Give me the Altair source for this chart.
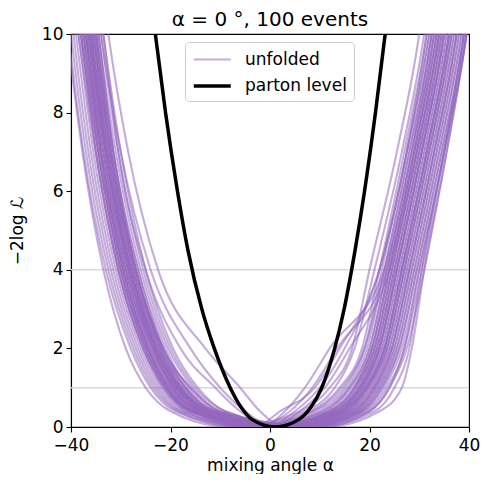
import altair as alt
import pandas as pd

# y levels at which each unfolded curve's alpha position was read (left side, minimum, right side)
Y_LEVELS = [13, 10, 7, 4, 2, 1, 0.4, 0, 0.4, 1, 2, 4, 7, 10, 13]

# alpha positions of each unfolded curve at the levels above
UNFOLDED = [
    [-39, -36, -33, -28.5, -23.5, -19.5, -14, 2, 14, 18.5, 22, 25.5, 30.5, 35, 38],
    [-41, -38, -35, -30.5, -25.5, -21.5, -16, -1, 12, 17, 20.5, 24, 29, 33.5, 36.5],
    [-38, -35, -32, -27, -22, -17.5, -12, 4, 16, 20, 23.5, 27, 32, 36.5, 39.5],
    [-42, -39.5, -36.5, -32, -27, -23, -18, -3, 10, 15.5, 19.5, 23, 28, 32.5, 35.5],
    [-37.5, -34.5, -31, -26, -20.5, -15.5, -10, 5, 17, 21, 24.5, 28, 33, 37.5, 40.5],
    [-40, -37, -34, -29.5, -24.5, -20, -15, 0, 13, 18, 21.5, 25, 30, 34.5, 37.5],
    [-39.5, -36.5, -33.5, -29, -24, -19, -13, 3, 15.5, 19.5, 23, 26.5, 31.5, 36, 39],
    [-43, -40.5, -37.5, -33, -28, -24, -19, -5, 8, 14, 18.5, 22, 27, 31.5, 34.5],
    [-38.5, -35.5, -32.5, -28, -23, -18.5, -12.5, 6, 18, 22, 25.5, 29, 34, 38.5, 41.5],
    [-40.5, -37.5, -34.5, -30, -25, -21, -16, -2, 11, 16, 20, 23.5, 28.5, 33, 36],
    [-35.5, -32.5, -28.5, -22.5, -13, -6, -2, 3, 14, 18, 21.5, 25, 30, 34.5, 37.5],
    [-37, -34, -30, -24, -16, -10, -5, 1, 13, 17.5, 21, 24.5, 29.5, 34, 37],
    [-39, -36, -33, -28, -23, -19, -14, -2, 3, 7, 12, 23, 28.5, 32.5, 35.5],
    [-40, -37, -34, -29.5, -24.5, -20.5, -15.5, -3, 2, 9, 14, 22, 27.5, 31.5, 34.5],
    [-38.5, -35.5, -32, -27.5, -22.5, -18, -12.5, 0, 6, 11, 16, 24, 29.5, 34, 37],
    [-41.5, -38.5, -35.5, -31, -26, -22, -17, -4, 9, 15, 19, 22.5, 27.5, 32, 35],
    [-38, -35, -31.5, -26.5, -21, -16.5, -11, 6, 18.5, 22.5, 26, 29.5, 34.5, 39, 42],
    [-39.5, -36.5, -33, -28, -22.5, -18, -12, 1, 14, 19, 22.5, 26, 31, 35.5, 38.5],
    [-40.5, -37.5, -34, -29.5, -24.5, -20.5, -15.5, 4, 16.5, 20.5, 24, 27.5, 32.5, 37, 40],
    [-37, -34, -30.5, -25.5, -20, -15, -9, 7, 19, 23, 26.5, 30, 35, 39.5, 42.5],
    [-42.5, -40, -37, -32.5, -27.5, -23.5, -18.5, -6, 7, 13, 17, 21, 26.5, 31, 34],
    [-39, -36, -32.5, -27.5, -22, -17, -11.5, 8, 20, 24, 27.5, 31, 35.5, 39.5, 42.5],
    [-40, -37, -33.5, -29, -23.5, -19.5, -14, -1, 12, 17, 21, 24.5, 29.5, 34, 37],
    [-38.5, -35.5, -32, -27, -22, -18, -12.5, 3, 15, 19, 22.5, 26, 31, 35.5, 38.5],
    [-41, -38, -35, -30.5, -25.5, -21, -15.5, 5, 17, 21, 24.5, 28, 33, 37.5, 40.5],
    [-39.5, -36.5, -33, -28.5, -23.5, -19, -13.5, 9, 21, 25, 28, 30.5, 35, 39.5, 42.5],
    [-37.5, -34.5, -31.5, -27, -21.5, -16, -10, 10, 20, 24, 27, 30.5, 35, 39, 42],
    [-40, -37, -33.5, -28.5, -23, -18.5, -13, 2, 14.5, 19, 23, 26.5, 31.5, 36, 39],
    [-41, -38, -34.5, -30, -25, -20.5, -15, -1, 12.5, 17.5, 21, 24.5, 29.5, 34, 37],
    [-38, -35, -31.5, -27, -22, -17.5, -12, 4, 16, 20.5, 24, 27.5, 32.5, 37, 40],
    [-39, -36, -32.5, -27.5, -22.5, -18, -12.5, 0, 13, 18, 22, 25.5, 30.5, 35, 38],
    [-42, -39, -36, -31.5, -26.5, -22.5, -17.5, -3, 10.5, 16, 20, 23.5, 28.5, 33, 36],
    [-36.5, -33.5, -30, -25, -19.5, -14.5, -9, 6, 17.5, 21.5, 25, 28.5, 33.5, 38, 41],
    [-40, -37, -34, -29.5, -24.5, -20, -14.5, 1, 13.5, 18.5, 22, 25.5, 30.5, 35, 38],
    [-39, -36, -33, -28, -23, -18.5, -13, 7, 18.5, 22.5, 26, 29.5, 34.5, 39, 42],
    [-43, -40.7, -37.7, -33.5, -29, -25, -20, -8, 6, 12, 16.5, 20, 25.5, 30, 33],
    [-38, -35, -32, -27, -21.5, -17, -11, 11, 22, 26.5, 28.5, 31, 35.5, 39.5, 42.5],
    [-39.5, -36.5, -33, -28.5, -23.5, -19.5, -14, -1, 5, 10, 15, 22, 27.5, 32, 35],
    [-40.5, -37.5, -34.5, -30, -25, -21, -15.5, 3, 15, 19.5, 23, 26.5, 31.5, 36, 39],
    [-38.5, -35.5, -32.5, -28, -23, -18.5, -13, 5, 16.5, 21, 24.5, 28, 33, 37.5, 40.5],
    [-39.5, -36.5, -33.5, -29, -24, -20, -14.5, -2, 11.5, 16.5, 20.5, 24, 29, 33.5, 36.5],
    [-38, -35, -32, -27.5, -22.5, -18, -12, 2.5, 15, 19.5, 23, 26.5, 31.5, 36, 39],
    [-40.5, -37.5, -34, -29, -24, -19.5, -14, 6.5, 18, 22, 25.5, 29, 34, 38.5, 41.5],
    [-39, -36, -33, -28.5, -23.5, -19, -13.5, -4, 8.5, 14.5, 19, 23, 28, 32.5, 35.5],
    [-37.5, -34.5, -31.5, -26.5, -21.5, -17, -11, 8, 19.5, 23.5, 27, 30, 35, 39, 42],
    [-41.5, -38.5, -35, -30.5, -25.5, -21.5, -16.5, 0.5, 13, 18, 21.5, 25, 30, 34.5, 37.5],
    [-38.5, -35.5, -32, -27, -21.5, -16, -10.5, 3.5, 15.5, 20, 23.5, 27, 32, 36.5, 39.5],
    [-40, -37, -34, -29.5, -24.5, -20.5, -15.5, 2, 14.5, 19.5, 23.5, 27, 32, 36.5, 39.5],
    [-39, -36, -32.5, -28, -23, -18.5, -13, -3, 4, 8.5, 13.5, 23.5, 29, 33, 36],
    [-36.5, -33.5, -30.5, -25, -18, -11, -6, 0, 12, 17, 20.5, 24, 29, 33.5, 36.5],
    [-41, -38, -34.5, -30, -25, -21, -16, 5.5, 17.5, 21.5, 25, 28.5, 33.5, 38, 41],
    [-39.5, -36.5, -33, -28, -23, -18.5, -13, 1.5, 14, 18.5, 22, 25.5, 30.5, 35, 38],
]

# parton level curve
PARTON_LEVELS = [13, 10, 8, 6, 4.5, 3, 2, 1, 0.5, 0.2, 0, 0.2, 0.5, 1, 2, 3, 4.5, 6, 8, 10, 13]
PARTON_ALPHA = [-25.7, -23.05, -21.0, -18.6, -16.5, -13.7, -11.2, -8.0, -5.8, -3.7, 1.0,
                5.9, 8.2, 10.4, 13.0, 14.9, 17.1, 19.0, 21.2, 23.15, 25.7]

REFERENCE_LEVELS = [1, 4]
SERIES = ["unfolded", "parton level"]
X_TICKS = [-40, -20, 0, 20, 40]
Y_TICKS = [0, 2, 4, 6, 8, 10]

rows = []
for i, xs in enumerate(UNFOLDED):
    for a, lv in zip(xs, Y_LEVELS):
        rows.append({"curve": i, "alpha": a, "nll": lv, "series": SERIES[0]})
unf = pd.DataFrame(rows)
par = pd.DataFrame({"alpha": PARTON_ALPHA, "nll": PARTON_LEVELS, "series": SERIES[1]})
ref = pd.DataFrame({"nll": REFERENCE_LEVELS})

FONT = "DejaVu Sans"

x_enc = alt.X("alpha:Q",
              scale=alt.Scale(domain=[-40, 40], nice=False, zero=False),
              axis=alt.Axis(values=X_TICKS, title="mixing angle α", format="d",
                            labelFlush=False))
y_enc = alt.Y("nll:Q",
              scale=alt.Scale(domain=[0, 10], nice=False, zero=False),
              axis=alt.Axis(values=Y_TICKS, title="−2log ℒ", format="d",
                            labelFlush=False))

leg = alt.Legend(orient="none", legendX=114, legendY=8, title=None,
                 symbolType="M-1,0H3", symbolSize=342, labelFontSize=17,
                 labelFont=FONT, labelColor="black", fillColor="white",
                 strokeColor="#cccccc", cornerRadius=4, padding=7,
                 labelOffset=31, rowPadding=7)

color = alt.Color("series:N", scale=alt.Scale(domain=SERIES, range=["#9467bd", "#000000"]), legend=leg)
width = alt.StrokeWidth("series:N", scale=alt.Scale(domain=SERIES, range=[2.1, 3.5]), legend=leg)
opac = alt.Opacity("series:N", scale=alt.Scale(domain=SERIES, range=[0.55, 1]), legend=leg)

rules = alt.Chart(ref).mark_rule(color="#d9d9d9", strokeWidth=1.5).encode(y=alt.Y("nll:Q"))

unfolded = alt.Chart(unf).mark_line(interpolate="monotone", clip=True).encode(
    x=x_enc, y=y_enc, detail="curve:N", color=color, strokeWidth=width, opacity=opac)

parton = alt.Chart(par).mark_line(interpolate="monotone", clip=True).encode(
    x=x_enc, y=y_enc, color=color, strokeWidth=width, opacity=opac)

chart = alt.layer(rules, unfolded, parton).properties(
    width=398, height=393,
    title=alt.TitleParams("α = 0 °, 100 events", fontSize=20, font=FONT,
                          fontWeight="normal", color="black", offset=8, dy=13),
    padding={"left": 63, "top": 26, "right": 11, "bottom": 47},
    autosize=alt.AutoSizeParams(type="none"),
).configure_view(stroke="black", strokeWidth=1.1).configure_axis(
    labelFont=FONT, titleFont=FONT, labelFontSize=17, titleFontSize=17,
    titleFontWeight="normal", labelColor="black", titleColor="black",
    domainColor="black", domainWidth=1.1, tickColor="black", tickWidth=1.1,
    tickSize=5, labelPadding=3, grid=False,
).configure_axisX(titlePadding=4, labelPadding=5).configure_axisY(titlePadding=15)

chart.save("out.html", embed_options={"renderer": "svg", "actions": False})
